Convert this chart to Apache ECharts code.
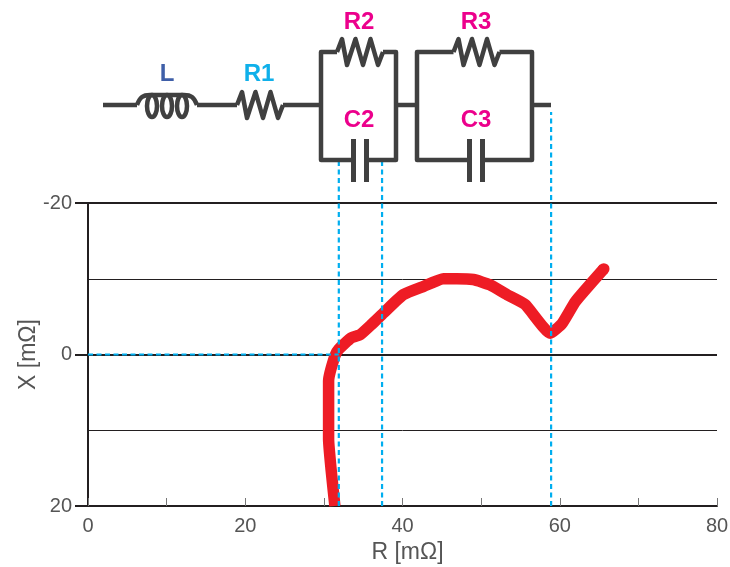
<!DOCTYPE html>
<html>
<head>
<meta charset="utf-8">
<style>html,body{margin:0;padding:0;background:#fff}#c{width:730px;height:567px}</style>
<script src="https://cdn.jsdelivr.net/npm/echarts@6/dist/echarts.min.js"></script>
</head>
<body>
<div id="c"></div>
<script>
// Impedance curve [R mΩ, X mΩ]
var curveR = [31.4,30.9,30.6,30.6,31.4,31.9,33.5,34.6,36.1,37.6,40.1,42.7,45.2,46.9,49.0,51.1,53.3,55.6,58.8,60.3,62.0,65.6];
var curveX = [20,15,11.2,3.5,0.2,-0.7,-2.2,-2.6,-4.0,-5.5,-7.9,-9.0,-10,-10,-9.9,-9.2,-7.9,-6.6,-2.8,-4.1,-7.0,-11.3];
// Dashed guide lines
var guideR = [31.9, 37.4, 58.9];
var guideTopX = [-25.7, -25.7, -32];
var xTicks = [0,20,40,60,80];
var yTicks = [-20,0,20];

var curve = curveR.map(function(r,i){return [r,curveX[i]];});
var guideStyle = {color:'#00aeef',width:2.2,type:[5,3.5]};
var series = [{
  type:'line',data:curve,symbol:'none',smooth:0.15,clip:false,z:3,
  lineStyle:{color:'#ee1c25',width:11.5,cap:'butt',join:'round'}
},{
  type:'scatter',data:[curve[curve.length-1]],symbol:'circle',symbolSize:11.5,z:3,
  itemStyle:{color:'#ee1c25',opacity:1}
},{
  type:'line',data:[[0,0],[guideR[0],0]],symbol:'none',clip:false,z:4,lineStyle:guideStyle
}];
guideR.forEach(function(r,i){
  series.push({type:'line',data:[[r,20],[r,guideTopX[i]]],symbol:'none',clip:false,z:4,lineStyle:guideStyle});
});

var WIRE='#404040';
function poly(pts,w){return {type:'polyline',z:10,shape:{points:pts},style:{stroke:WIRE,lineWidth:w||4.5,fill:null,lineJoin:'round',lineCap:'butt'}};}
function label(t,x,y,col){return {type:'text',z:11,x:x,y:y,style:{text:t,fill:col,font:'bold 24px "Liberation Sans",Arial,sans-serif',textAlign:'center',textVerticalAlign:'middle'}};}
function resistor(x0,y0){
  var xs=[0,5,10,18.5,26,33.5,41,46];
  var ys=[0,-13,13,-13,13,-13,13,0];
  return xs.map(function(v,i){return [x0+v,y0+ys[i]];});
}
function curveEl(x1,y1,c1x,c1y,c2x,c2y,x2,y2){return {type:'bezierCurve',z:10,shape:{x1:x1,y1:y1,cpx1:c1x,cpy1:c1y,cpx2:c2x,cpy2:c2y,x2:x2,y2:y2},style:{stroke:WIRE,lineWidth:4.5,fill:null}};}
var g=[];
g.push(poly([[103,105],[137,105]]));
g.push(curveEl(137,105,140,97,143,95,150,95));
g.push(poly([[150,95],[184,95]]));
g.push(curveEl(184,95,191,95,194,97,197,105));
[152,167,182].forEach(function(cx){g.push({type:'ellipse',z:10,shape:{cx:cx,cy:106,rx:5,ry:11},style:{stroke:WIRE,lineWidth:4.5,fill:null}});});
g.push(poly([[197,105],[237,105]]));
g.push(poly(resistor(237,105)));
g.push(poly([[283,105],[321,105]]));
// parallel R || C branches
function rc(left,right,rx,c1,c2){
  g.push(poly([[rx,52],[left,52],[left,160],[c1,160]]));
  g.push(poly(resistor(rx,52)));
  g.push(poly([[rx+46,52],[right,52],[right,160],[c2,160]]));
  g.push(poly([[c1,139],[c1,182]],5));
  g.push(poly([[c2,139],[c2,182]],5));
}
rc(321,396,337,353.5,366.5);
g.push(poly([[396,105],[417,105]]));
rc(417,532,453.5,469.5,482.5);
g.push(poly([[532,105],[551,105]]));
g.push(label('L',167,74,'#3f5fa8'));
g.push(label('R1',259,74,'#0fb0ea'));
g.push(label('R2',359,22,'#ec008c'));
g.push(label('C2',359,120,'#ec008c'));
g.push(label('R3',476,22,'#ec008c'));
g.push(label('C3',476,120,'#ec008c'));

var FONT='"Liberation Sans",Arial,sans-serif';
var chart=echarts.init(document.getElementById('c'),null,{renderer:'canvas'});
chart.setOption({
  animation:false,
  backgroundColor:'#fff',
  grid:{left:88,right:13,top:203,bottom:61,containLabel:false,outerBoundsMode:'none'},
  xAxis:{
    type:'value',min:0,max:80,interval:10,
    name:'R [mΩ]',nameLocation:'middle',nameGap:35,nameMoveOverlap:false,
    nameTextStyle:{fontFamily:FONT,fontSize:23,color:'#555',padding:[0,0,0,10]},
    axisLine:{show:true,onZero:false,lineStyle:{color:'#231f20',width:2}},
    axisTick:{show:true,inside:true,length:8,lineStyle:{color:'#777',width:1}},
    axisLabel:{fontFamily:FONT,fontSize:20,color:'#555',margin:10,
      formatter:function(v){return xTicks.indexOf(v)>=0?String(v):'';}},
    splitLine:{show:false}
  },
  yAxis:{
    type:'value',inverse:true,min:-20,max:20,interval:20,
    name:'X [mΩ]',nameLocation:'middle',nameGap:48,nameRotate:90,nameMoveOverlap:false,
    nameTextStyle:{fontFamily:FONT,fontSize:23,color:'#555'},
    axisLine:{show:true,onZero:false,lineStyle:{color:'#231f20',width:2}},
    axisTick:{show:true,length:13,lineStyle:{color:'#231f20',width:2}},
    axisLabel:{fontFamily:FONT,fontSize:20,color:'#555',margin:16,
      formatter:function(v){return yTicks.indexOf(v)>=0?String(v):'';}},
    splitLine:{show:true,lineStyle:{color:'#231f20',width:2}},
    minorTick:{show:false,splitNumber:2},
    minorSplitLine:{show:true,lineStyle:{color:'#231f20',width:1}}
  },
  series:series,
  graphic:{elements:g}
});
</script>
</body>
</html>
